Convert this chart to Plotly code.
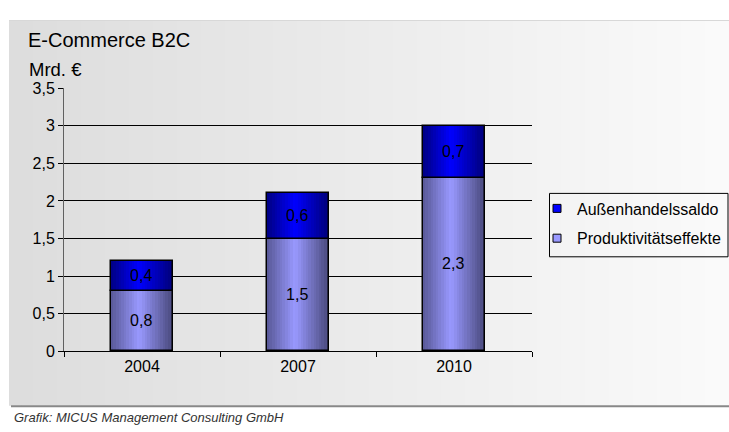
import plotly.graph_objects as go

# Data (Mrd. €)
years = ["2004", "2007", "2010"]
produktivitaet = [0.8, 1.5, 2.3]
aussenhandel = [0.4, 0.6, 0.7]
y_ticks = [0, 0.5, 1, 1.5, 2, 2.5, 3, 3.5]

W, H = 729, 432
BAR_W = 0.4
N_STRIPES = 24
FONT = "Liberation Sans, Arial, sans-serif"


def lerp(c1, c2, t):
    return tuple(round(a + (b - a) * t) for a, b in zip(c1, c2))


def shade(dark_l, light, dark_r, t, peak=0.45):
    if t <= peak:
        c = lerp(dark_l, light, t / peak)
    else:
        c = lerp(light, dark_r, (t - peak) / (1 - peak))
    return "rgb(%d,%d,%d)" % c


series = [
    # name, values, base, gradient (left, centre, right), legend colour
    ("Produktivitätseffekte", produktivitaet, [0] * len(years),
     ((88, 88, 150), (153, 153, 255), (72, 72, 122)), "#9999ff"),
    ("Außenhandelssaldo", aussenhandel, produktivitaet,
     ((0, 0, 130), (0, 0, 255), (0, 0, 118)), "#0000ff"),
]

fig = go.Figure()

for name, vals, base, (cl, cm, cr), _ in series:
    # horizontal gradient fill built from narrow stripes of the same bar
    for i in range(N_STRIPES):
        t = (i + 0.5) / N_STRIPES
        fig.add_trace(go.Bar(
            x=years, y=vals, base=base,
            offset=-BAR_W / 2 + i * BAR_W / N_STRIPES,
            width=BAR_W / N_STRIPES * 1.08,
            marker=dict(color=shade(cl, cm, cr, t), line=dict(width=0)),
            showlegend=False, hoverinfo="skip",
        ))
    # outline + value label
    fig.add_trace(go.Bar(
        x=years, y=vals, base=base, offset=-BAR_W / 2, width=BAR_W,
        marker=dict(color="rgba(0,0,0,0)", line=dict(color="black", width=1.5)),
        texttemplate="%{y:.1f}", textposition="inside",
        insidetextanchor="middle", constraintext="none", textangle=0,
        textfont=dict(family=FONT, size=16, color="black"),
        showlegend=False, name=name,
    ))

# legend entries
for name, _, _, _, col in reversed(series):
    fig.add_trace(go.Scatter(
        x=[None], y=[None], mode="markers", name=name, legendgroup=name,
        marker=dict(symbol="square", size=8, color=col,
                    line=dict(color="black", width=1)),
    ))

# panel background: light grey horizontal gradient
x_left = 9 / W
n_bg = 60
for i in range(n_bg):
    t = i / (n_bg - 1)
    g = round(221 + (250 - 221) * t)
    x0 = x_left + (1 - x_left) * i / n_bg
    x1 = x_left + (1 - x_left) * (i + 1) / n_bg + 0.001
    fig.add_shape(type="rect", xref="paper", yref="paper",
                  x0=x0, x1=x1, y0=(H - 414) / H, y1=(H - 13) / H,
                  fillcolor="rgb(%d,%d,%d)" % (g, g, g), line=dict(width=0),
                  layer="below")
fig.add_shape(type="line", xref="paper", yref="paper",
              x0=x_left, x1=1, y0=(H - 13) / H, y1=(H - 13) / H,
              line=dict(color="#d8d8d8", width=1), layer="below")
fig.add_shape(type="line", xref="paper", yref="paper",
              x0=x_left + 2 / W, x1=1, y0=(H - 414.5) / H, y1=(H - 414.5) / H,
              line=dict(color="#888888", width=2), layer="below")
# legend frame
fig.add_shape(type="rect", xref="paper", yref="paper",
              x0=549.5 / W, x1=728 / W, y0=(H - 259) / H, y1=(H - 193) / H,
              line=dict(color="black", width=1), fillcolor="rgba(0,0,0,0)")

fig.update_layout(
    width=W, height=H, autosize=False,
    margin=dict(l=0, r=0, t=0, b=0),
    paper_bgcolor="white", plot_bgcolor="rgba(0,0,0,0)",
    barmode="overlay", bargap=0, separators=",.",
    font=dict(family=FONT, size=16, color="black"),
    xaxis=dict(
        type="category", domain=[64 / W, 532 / W], range=[-0.5, 2.5],
        showline=True, linecolor="black", linewidth=1,
        ticks="outside", tickson="boundaries", ticklen=5, tickcolor="black",
        showgrid=False, tickfont=dict(size=16),
    ),
    yaxis=dict(
        domain=[(H - 357.5) / H, (H - 83.3) / H], range=[0, 3.5],
        tickvals=y_ticks, showgrid=True, gridcolor="black", gridwidth=1,
        showline=True, linecolor="#606060", linewidth=1, zeroline=False,
        ticks="outside", ticklen=5, tickcolor="black", tickfont=dict(size=16),
    ),
    legend=dict(
        x=537 / W, y=(H - 191) / H, xanchor="left", yanchor="top",
        borderwidth=0, bgcolor="rgba(0,0,0,0)",
        font=dict(size=16), tracegroupgap=6, itemsizing="trace",
    ),
    annotations=[
        dict(text="E-Commerce B2C", xref="paper", yref="paper",
             x=26 / W, y=(H - 33) / H, xanchor="left", yanchor="middle",
             showarrow=False, font=dict(size=20)),
        dict(text="Mrd. €", xref="paper", yref="paper",
             x=27 / W, y=(H - 64) / H, xanchor="left", yanchor="middle",
             showarrow=False, font=dict(size=18.5)),
        dict(text="<i>Grafik: MICUS Management Consulting GmbH</i>",
             xref="paper", yref="paper", x=12 / W, y=(H - 426) / H,
             xanchor="left", yanchor="middle", showarrow=False,
             font=dict(size=13, color="#333333")),
    ],
)

fig.write_html("out.html")
